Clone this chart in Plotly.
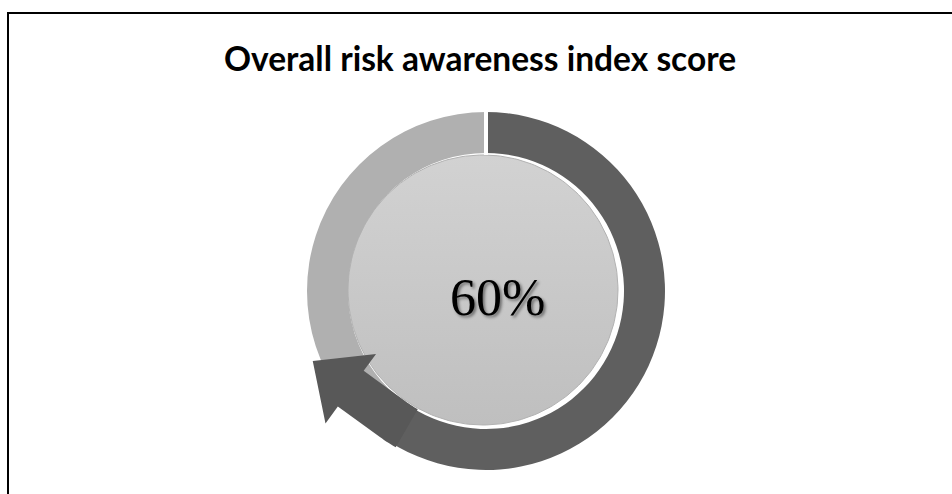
import numpy as np
import plotly.graph_objects as go

# ---------------- data ----------------
title_text = "Overall risk awareness index score"
categories = ["Risk awareness", "Remaining"]
values = [60, 40]
slice_colors = ["#5f5f5f", "#b0b0b0"]
arrow_color = "#585858"

W, H = 952, 494

# pie placement (paper fractions)
dom_x = [0.322475, 0.698525]
dom_y = [0.04858, 0.77328]
hole = 0.771

# geometry derived from pie domain (pixel units, y down)
cx = W * (dom_x[0] + dom_x[1]) / 2
cy = H * (1 - (dom_y[0] + dom_y[1]) / 2)
R = min(W * (dom_x[1] - dom_x[0]), H * (dom_y[1] - dom_y[0])) / 2
Ri = R * hole

frac = values[0] / sum(values)
theta_e = 2 * np.pi * frac  # clockwise from 12 o'clock


def pt(r, th):
    return (cx + r * np.sin(th), cy - r * np.cos(th))


# arrow at the end of the first slice
ro_a = R + 1.5
ri_a = Ri - 1.5
th_s = theta_e - np.radians(6)
d = np.array([np.cos(theta_e), np.sin(theta_e)])      # clockwise tangent
n = np.array([np.sin(theta_e), -np.cos(theta_e)])     # outward normal
shaft_len = 52
head_half = 43
head_len = 47
Po = np.array(pt(ro_a, theta_e))
Pi = np.array(pt(ri_a, theta_e))
Pm = (Po + Pi) / 2
base_c = Pm + shaft_len * d
pts = []
for th in np.linspace(th_s, theta_e, 8):
    pts.append(pt(ro_a, th))
pts.append(tuple(Po + shaft_len * d))
pts.append(tuple(base_c + head_half * n))
pts.append(tuple(base_c + head_len * d))
pts.append(tuple(base_c - head_half * n))
pts.append(tuple(Pi + shaft_len * d))
for th in np.linspace(theta_e, th_s, 8):
    pts.append(pt(ri_a, th))
arrow_path = "M " + " L ".join(f"{x:.2f},{y:.2f}" for x, y in pts) + " Z"

# inner disc
ic_x, ic_y, ic_r = cx - 3, cy - 1, Ri - 3
t = np.linspace(0, 2 * np.pi, 241)
disc_x = ic_x + ic_r * np.cos(t)
disc_y = ic_y + ic_r * np.sin(t)

fig = go.Figure()

fig.add_trace(go.Scatter(
    x=disc_x, y=disc_y, mode="lines", fill="toself",
    line=dict(color="#b2b2b2", width=1),
    fillgradient=dict(type="vertical",
                      colorscale=[[0, "#bfbfbf"], [1, "#d2d2d2"]],
                      start=ic_y + ic_r, stop=ic_y - ic_r),
    hoverinfo="skip", showlegend=False,
))

fig.add_trace(go.Pie(
    labels=categories, values=values, hole=hole, sort=False,
    direction="clockwise", rotation=0,
    marker=dict(colors=slice_colors, line=dict(color="white", width=0)),
    textinfo="none", hoverinfo="skip", showlegend=False,
    domain=dict(x=dom_x, y=dom_y),
))

# white gap at the start of the first slice
g0 = pt(Ri - 2, 0)
g1 = pt(R + 2, 0)
fig.add_shape(type="line", xref="x", yref="y",
              x0=g0[0], y0=g0[1], x1=g1[0], y1=g1[1],
              line=dict(color="white", width=4), layer="above")

fig.add_shape(type="path", path=arrow_path, xref="x", yref="y",
              fillcolor=arrow_color, line=dict(width=0), layer="above")

# border
fig.add_shape(type="rect", xref="paper", yref="paper",
              x0=8 / W, x1=1.05, y0=-0.05, y1=1 - 13 / H,
              line=dict(color="black", width=2), layer="above")

fig.add_annotation(
    x=cx + 11, y=cy + 6, xref="x", yref="y",
    text=f"{values[0]}%", showarrow=False,
    font=dict(family="Liberation Serif", size=52, color="black",
              shadow="2px 2px 3px rgba(0,0,0,0.45)"),
    xanchor="center", yanchor="middle",
)

fig.add_annotation(
    x=479.5, y=58, xref="x", yref="y",
    text=f"<b>{title_text}</b>", showarrow=False,
    font=dict(family="Lato", size=33.5, color="black"),
    xanchor="center", yanchor="middle",
)

fig.update_layout(
    width=W, height=H,
    margin=dict(l=0, r=0, t=0, b=0),
    paper_bgcolor="white", plot_bgcolor="white",
    xaxis=dict(range=[0, W], visible=False, fixedrange=True),
    yaxis=dict(range=[H, 0], visible=False, fixedrange=True),
    showlegend=False,
)

fig.write_html("out.html")
